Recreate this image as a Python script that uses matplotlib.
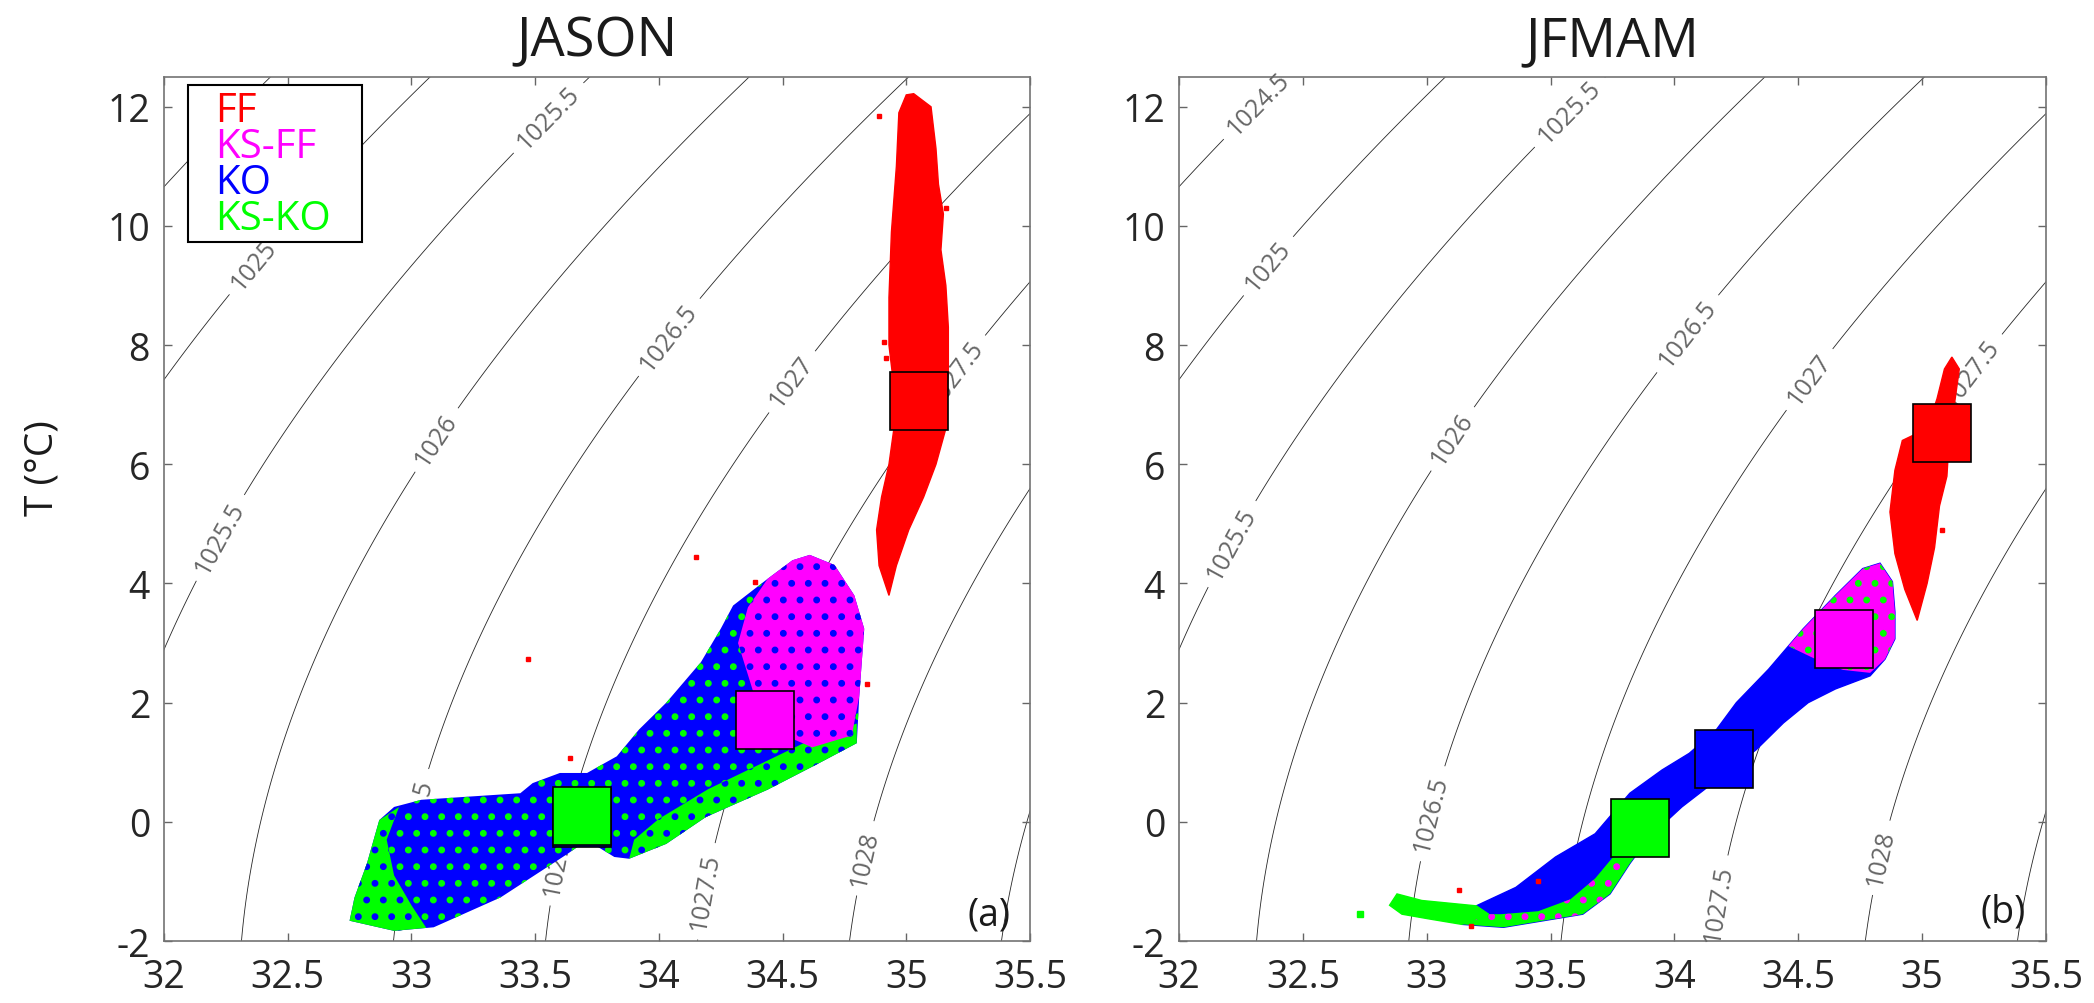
import numpy as np
import matplotlib.pyplot as plt
from matplotlib.patches import Polygon, Rectangle

plt.rcParams['font.family'] = ['Open Sans', 'DejaVu Sans']
plt.rcParams['hatch.linewidth'] = 2.5

# axes
S_TICKS = [32, 32.5, 33, 33.5, 34, 34.5, 35, 35.5]
T_TICKS = [-2, 0, 2, 4, 6, 8, 10, 12]
LEVELS = [1024.5, 1025, 1025.5, 1026, 1026.5, 1027, 1027.5, 1028, 1028.5]
TITLES = ['JASON', 'JFMAM']
PANEL_TAGS = ['(a)', '(b)']
NAMES = ['FF', 'KS-FF', 'KO', 'KS-KO']
COLORS = ['#ff0000', '#ff00ff', '#0000ff', '#00ff00']

# contour label positions (S, T)
jason_lab = [(32.36, 9.36), (33.57, 11.75), (33.09, 6.44), (34.03, 8.17),
             (34.52, 7.44), (35.2, 7.5), (32.23, 4.76), (33.01, 0.1), (33.57, -0.76),
             (34.17, -1.15), (34.81, -0.59)]
jfmam_lab = [(32.32, 12.05), (33.57, 11.94), (32.36, 9.33), (33.10, 6.44), (34.06, 8.17),
             (34.54, 7.44), (35.19, 7.56), (32.17, 4.76), (33.02, 0.14), (34.19, -1.38),
             (34.82, -0.59)]

# JASON clouds (outlines)
jason_ff_S = [35.03, 35.10, 35.12, 35.13, 35.15, 35.14, 35.16, 35.17, 35.17, 35.16, 35.12, 35.07, 35.01,
              34.96, 34.93, 34.89, 34.88, 34.90, 34.93, 34.95, 34.95, 34.93, 34.93, 34.94, 34.96, 34.97, 35.00]
jason_ff_T = [12.22, 12.0, 11.3, 10.7, 10.2, 9.6, 9.0, 8.3, 7.6, 6.6, 6.0, 5.45, 4.9,
              4.3, 3.8, 4.3, 4.9, 5.45, 6.0, 6.6, 7.3, 8.0, 8.8, 9.9, 11.0, 11.9, 12.2]
jason_mix_S = [32.75, 32.93, 33.09, 33.36, 33.63, 33.71, 33.82, 33.88, 34.03, 34.19, 34.44, 34.65, 34.80,
               34.81, 34.83, 34.79, 34.71, 34.61, 34.54, 34.44, 34.30, 34.25, 34.17, 34.03, 33.92, 33.83,
               33.71, 33.60, 33.49, 33.44, 33.22, 33.04, 32.93, 32.87, 32.82, 32.77]
jason_mix_T = [-1.66, -1.83, -1.77, -1.27, -0.54, -0.31, -0.59, -0.62, -0.37, 0.08, 0.54, 0.99, 1.32,
               2.11, 3.24, 3.80, 4.31, 4.48, 4.39, 4.08, 3.63, 3.24, 2.68, 2.00, 1.55, 1.10,
               0.82, 0.82, 0.65, 0.48, 0.42, 0.37, 0.25, 0.03, -0.70, -1.27]
jason_ksko_S = [32.75, 32.93, 33.06, 33.00, 32.93, 32.90, 32.95, 32.87, 32.82, 32.77]
jason_ksko_T = [-1.66, -1.83, -1.78, -1.40, -0.90, -0.30, 0.25, 0.03, -0.70, -1.27]
jason_edge_S = [33.88, 34.03, 34.19, 34.44, 34.65, 34.80, 34.80, 34.60, 34.40, 34.20, 34.00, 33.90]
jason_edge_T = [-0.62, -0.37, 0.08, 0.54, 0.99, 1.32, 1.65, 1.35, 0.95, 0.55, 0.05, -0.30]
jason_ksff_S = [34.54, 34.61, 34.71, 34.79, 34.83, 34.81, 34.78, 34.62, 34.48, 34.38, 34.32, 34.36, 34.44]
jason_ksff_T = [4.39, 4.48, 4.31, 3.80, 3.24, 2.11, 1.45, 1.25, 1.5, 2.2, 3.0, 3.6, 4.08]
jason_out_S = [34.89, 34.91, 34.92, 35.16, 34.15, 33.47, 34.39, 34.84, 33.64]
jason_out_T = [11.84, 8.06, 7.78, 10.3, 4.45, 2.73, 4.03, 2.31, 1.07]
jason_box_S = [35.05, 34.43, 33.69, 33.69]
jason_box_T = [7.06, 1.71, 0.06, 0.09]

# JFMAM clouds
jfmam_ff_S = [35.12, 35.15, 35.13, 35.11, 35.10, 35.07, 35.05, 35.02, 34.98, 34.93, 34.89, 34.87, 34.89,
              34.92, 35.02, 35.06, 35.09]
jfmam_ff_T = [7.80, 7.60, 7.00, 6.50, 5.80, 5.30, 4.60, 4.00, 3.38, 3.90, 4.50, 5.20, 5.90,
              6.40, 6.60, 7.10, 7.60]
jfmam_mix_S = [33.20, 33.36, 33.52, 33.68, 33.82, 33.95, 34.06, 34.17, 34.25, 34.38, 34.52, 34.65, 34.76,
               34.83, 34.88, 34.89, 34.89, 34.85, 34.79, 34.65, 34.54, 34.44, 34.33, 34.17, 34.03, 33.90,
               33.82, 33.74, 33.63, 33.47, 33.31, 33.14]
jfmam_mix_T = [-1.41, -1.10, -0.59, -0.20, 0.48, 0.87, 1.15, 1.55, 2.00, 2.56, 3.24, 3.80, 4.25,
               4.34, 4.03, 3.52, 3.07, 2.73, 2.45, 2.23, 2.00, 1.66, 1.21, 0.70, 0.25, -0.25,
               -0.70, -1.21, -1.55, -1.66, -1.77, -1.72]
jfmam_ksko_S = [33.14, 33.31, 33.47, 33.63, 33.74, 33.82, 33.90, 33.86, 33.78, 33.68, 33.58, 33.45, 33.30, 33.18]
jfmam_ksko_T = [-1.72, -1.77, -1.66, -1.55, -1.21, -0.70, -0.25, -0.10, -0.45, -0.95, -1.30, -1.50, -1.55, -1.55]
jfmam_tail_S = [32.88, 32.98, 33.20, 33.25, 33.14, 33.01, 32.90, 32.85]
jfmam_tail_T = [-1.21, -1.32, -1.41, -1.55, -1.72, -1.63, -1.55, -1.40]
jfmam_ksff_S = [34.52, 34.65, 34.76, 34.83, 34.88, 34.89, 34.89, 34.85, 34.79, 34.68, 34.56, 34.46]
jfmam_ksff_T = [3.24, 3.80, 4.25, 4.34, 4.03, 3.52, 3.07, 2.73, 2.50, 2.55, 2.75, 2.95]
jfmam_out_S = [33.13, 33.18, 33.45, 35.08]
jfmam_out_T = [-1.15, -1.75, -0.99, 4.9]
jfmam_green_S = [32.73]
jfmam_green_T = [-1.55]
jfmam_box_S = [35.08, 34.685, 34.20, 33.86]
jfmam_box_T = [6.53, 3.06, 1.06, -0.10]


def rho0(S, T):
    # UNESCO 1983 density at p = 0
    rw = (999.842594 + 6.793952e-2 * T - 9.095290e-3 * T**2 + 1.001685e-4 * T**3
          - 1.120083e-6 * T**4 + 6.536332e-9 * T**5)
    a = 0.824493 - 4.0899e-3 * T + 7.6438e-5 * T**2 - 8.2467e-7 * T**3 + 5.3875e-9 * T**4
    b = -5.72466e-3 + 1.0227e-4 * T - 1.6546e-6 * T**2
    return rw + a * S + b * S**1.5 + 4.8314e-4 * S**2


fig = plt.figure(figsize=(20.94, 10.04), dpi=100)
ax1 = fig.add_axes([0.07832, 0.06175, 0.41356, 0.86056])
ax2 = fig.add_axes([0.56304, 0.06175, 0.41404, 0.86056])

sg, tg = np.meshgrid(np.linspace(31.9, 35.6, 300), np.linspace(-2.3, 12.8, 300))
rho = rho0(sg, tg)


def poly(ax, S, T, color, z, hatch=None, hcolor=None):
    p = Polygon(np.column_stack([S, T]), closed=True, facecolor=color,
                edgecolor=hcolor if hatch else color, lw=0 if hatch else 1.0,
                hatch=hatch, zorder=z)
    ax.add_patch(p)


for i, ax in enumerate([ax1, ax2]):
    cs = ax.contour(sg, tg, rho, levels=LEVELS, colors='0.15', linewidths=0.6, zorder=1)
    labs = ax.clabel(cs, fmt=lambda v: f'{v:g}', fontsize=18, colors='0.4', inline=True,
                     inline_spacing=8, manual=[jason_lab, jfmam_lab][i])
    for t in labs:
        t.set_clip_on(False)
    ax.set_xlim(32, 35.5)
    ax.set_ylim(-2, 12.5)
    ax.set_xticks(S_TICKS)
    ax.set_xticklabels([f'{v:g}' for v in S_TICKS])
    ax.set_yticks(T_TICKS)
    ax.set_yticklabels([f'{v:g}' for v in T_TICKS])
    ax.tick_params(direction='in', length=6, width=1, color='0.4', labelcolor='0.15',
                   labelsize=27, top=True, right=True)
    ax.tick_params(axis='x', pad=12)
    ax.tick_params(axis='y', pad=10)
    for sp in ax.spines.values():
        sp.set_color('0.45')
        sp.set_linewidth(1.2)
    ax.set_title(TITLES[i], fontsize=39, pad=16, color='0.1')
    ax.text(35.42, -1.5 if i else -1.55, PANEL_TAGS[i], fontsize=27, ha='right', va='center',
            color='0.1', zorder=6)

# JASON
poly(ax1, jason_ff_S, jason_ff_T, COLORS[0], 4)
poly(ax1, jason_mix_S, jason_mix_T, COLORS[2], 4, hatch='.', hcolor=COLORS[3])
poly(ax1, jason_ksko_S, jason_ksko_T, COLORS[3], 4.1, hatch='.', hcolor=COLORS[2])
poly(ax1, jason_edge_S, jason_edge_T, COLORS[3], 4.1, hatch='.', hcolor=COLORS[2])
poly(ax1, jason_ksff_S, jason_ksff_T, COLORS[1], 4.1, hatch='.', hcolor=COLORS[2])
ax1.plot(jason_out_S, jason_out_T, 's', color=COLORS[0], ms=3, zorder=4.2)
for k in range(4):
    ax1.plot(jason_box_S[k], jason_box_T[k], 's', ms=42, mfc=COLORS[k], mec='black',
             mew=1.2, zorder=5)

# JFMAM
poly(ax2, jfmam_ff_S, jfmam_ff_T, COLORS[0], 4)
poly(ax2, jfmam_mix_S, jfmam_mix_T, COLORS[2], 4)
poly(ax2, jfmam_ksko_S, jfmam_ksko_T, COLORS[3], 4.1, hatch='.', hcolor=COLORS[1])
poly(ax2, jfmam_tail_S, jfmam_tail_T, COLORS[3], 4.1)
poly(ax2, jfmam_ksff_S, jfmam_ksff_T, COLORS[1], 4.1, hatch='.', hcolor=COLORS[3])
ax2.plot(jfmam_out_S, jfmam_out_T, 's', color=COLORS[0], ms=3, zorder=4.2)
ax2.plot(jfmam_green_S, jfmam_green_T, 's', color=COLORS[3], ms=5, zorder=4.2)
for k in range(4):
    ax2.plot(jfmam_box_S[k], jfmam_box_T[k], 's', ms=42, mfc=COLORS[k], mec='black',
             mew=1.2, zorder=5)

ax1.set_ylabel('T (°C)', fontsize=28, color='0.1')
ax1.yaxis.set_label_coords(-0.118, 0.549)

# legend box
ax1.add_patch(Rectangle((0.0277, 0.809), 0.2009, 0.1817, transform=ax1.transAxes,
                        facecolor='white', edgecolor='black', lw=1.5, zorder=6))
for k, name in enumerate(NAMES):
    ax1.text(0.0589, [0.949, 0.907, 0.866, 0.824][k], name, color=COLORS[k], fontsize=29,
             transform=ax1.transAxes, va='baseline', ha='left', zorder=7)

fig.savefig('out.png', dpi=100)
